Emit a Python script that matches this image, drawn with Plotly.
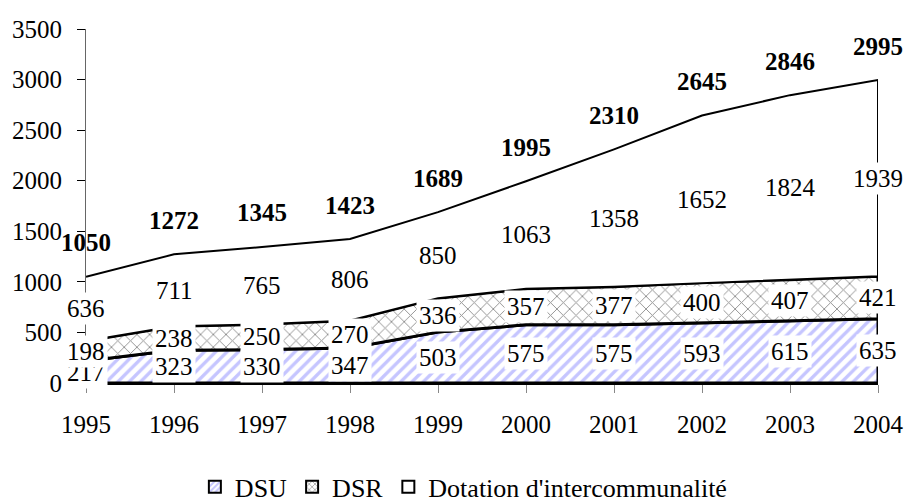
import plotly.graph_objects as go

years = [1995, 1996, 1997, 1998, 1999, 2000, 2001, 2002, 2003, 2004]
dsu = [217, 323, 330, 347, 503, 575, 575, 593, 615, 635]
dsr = [198, 238, 250, 270, 336, 357, 377, 400, 407, 421]
inter = [636, 711, 765, 806, 850, 1063, 1358, 1652, 1824, 1939]
totals = [1050, 1272, 1345, 1423, 1689, 1995, 2310, 2645, 2846, 2995]
names = ["DSU", "DSR", "Dotation d'intercommunalité"]
y_ticks = [0, 500, 1000, 1500, 2000, 2500, 3000, 3500]

FONT = "Liberation Serif, Times New Roman, serif"
FS = 25

fig = go.Figure()

series = [dsu, dsr, inter]
base = [0] * len(years)
patterns = [
    dict(shape="/", fgcolor="#8c8cff", bgcolor="white", size=8, solidity=0.42),
    dict(shape="x", fgcolor="#222222", bgcolor="white", size=9, solidity=0.2),
    dict(shape="", bgcolor="white"),
]
line_w = [3, 3, 2]
tops = []
for i, s in enumerate(series):
    top = [b + v for b, v in zip(base, s)]
    tops.append((list(base), top))
    fig.add_trace(go.Scatter(
        x=years + years[::-1],
        y=top + base[::-1],
        fill="toself",
        fillcolor="white",
        fillpattern=patterns[i] if patterns[i]["shape"] else None,
        mode="lines",
        line=dict(color="black", width=line_w[i]),
        name=names[i],
        showlegend=False,
        hoverinfo="skip",
    ))
    base = top

# legend swatches
for i in range(3):
    p = patterns[i]
    marker = dict(color="white", line=dict(color="black", width=2))
    if p["shape"]:
        marker["pattern"] = dict(shape=p["shape"], fgcolor=p["fgcolor"], bgcolor="white",
                                 size=5, solidity=p["solidity"] + 0.1)
    fig.add_trace(go.Bar(x=[None], y=[None], name=names[i], marker=marker,
                         showlegend=True, hoverinfo="skip"))

annotations = []
for i, s in enumerate(series):
    b, t = tops[i]
    for x, v, lo in zip(years, s, b):
        annotations.append(dict(
            x=x, y=lo + v / 2, text=str(v), showarrow=False,
            font=dict(family=FONT, size=FS, color="black"),
            bgcolor="white", borderpad=2, xref="x", yref="y",
        ))
for x, t in zip(years, totals):
    annotations.append(dict(
        x=x, y=t, text="<b>%d</b>" % t, showarrow=False, yshift=34,
        font=dict(family=FONT, size=FS, color="black"),
        xref="x", yref="y",
    ))

fig.update_layout(
    width=906, height=502,
    margin=dict(l=86, r=28, t=29, b=119, autoexpand=False),
    paper_bgcolor="white", plot_bgcolor="white",
    font=dict(family=FONT, size=FS, color="black"),
    annotations=annotations,
    showlegend=True,
    legend=dict(
        orientation="h", x=0.512, xanchor="center", xref="container",
        y=0.03, yanchor="middle", yref="container",
        font=dict(family=FONT, size=26), traceorder="normal",
        itemwidth=30, tracegroupgap=0, bgcolor="rgba(0,0,0,0)",
    ),
    xaxis=dict(
        range=[1995, 2004], tickvals=years, ticktext=[str(y) for y in years],
        showgrid=False, zeroline=False, showline=True, linecolor="black", linewidth=2,
        ticks="outside", ticklen=8, tickcolor="#888888", ticklabelstandoff=10,
        automargin=False,
    ),
    yaxis=dict(
        range=[0, 3500], tickvals=y_ticks, showgrid=False, zeroline=False,
        showline=True, linecolor="#666666", linewidth=1,
        ticks="outside", ticklen=8, tickcolor="black", ticklabelstandoff=10,
        automargin=False,
    ),
)

fig.write_html(
    "out.html",
    config={"displayModeBar": False},
    post_script="document.body.style.margin='0';document.body.style.padding='0';document.body.style.overflow='hidden';",
)
